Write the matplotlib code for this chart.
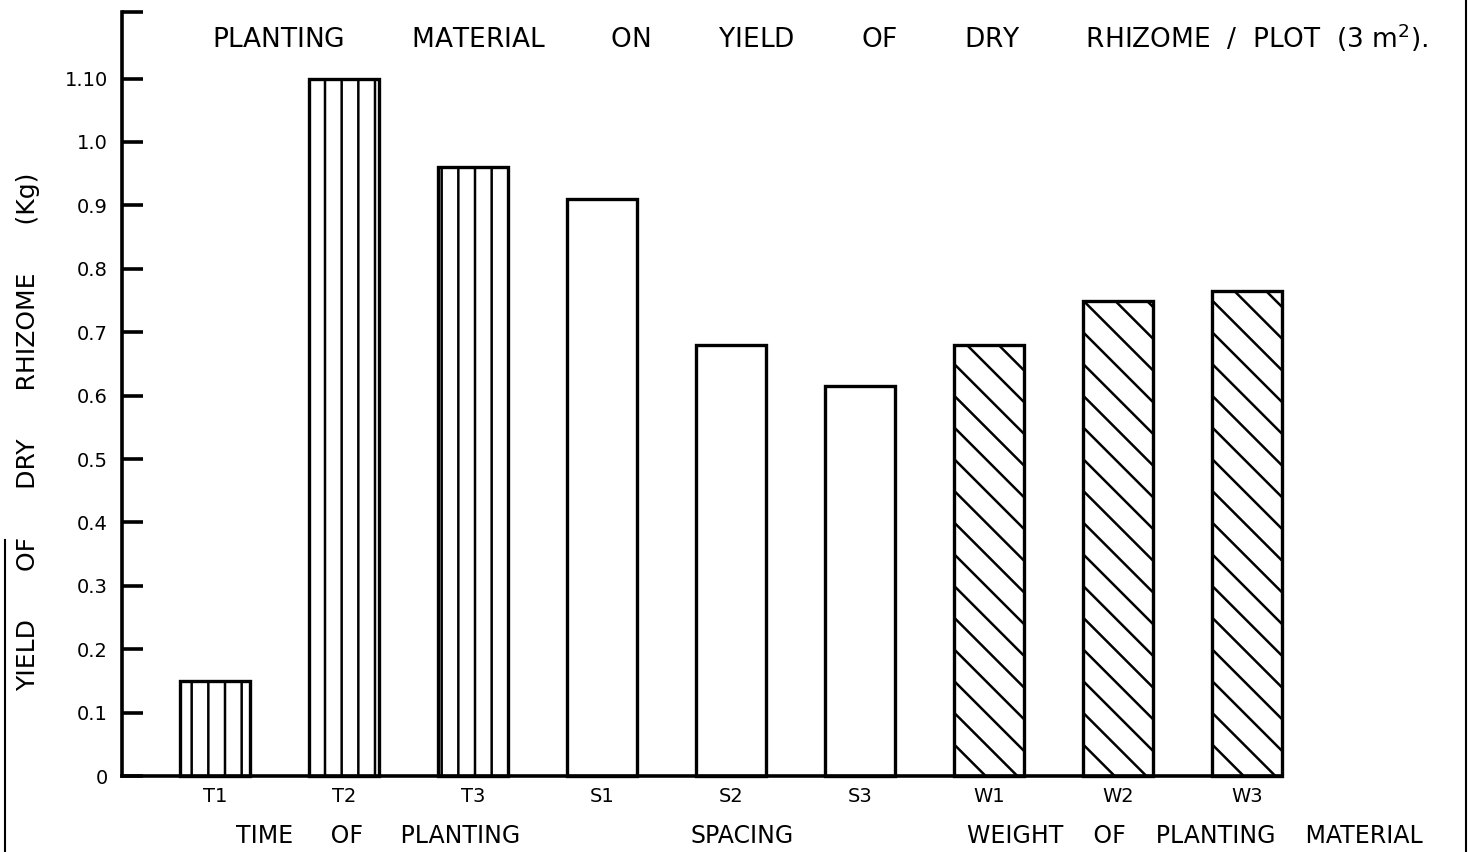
import numpy as np
import matplotlib
matplotlib.use("Agg")
import matplotlib.pyplot as plt
from matplotlib.lines import Line2D
from matplotlib.collections import LineCollection

# data
labels = ["T1", "T2", "T3", "S1", "S2", "S3", "W1", "W2", "W3"]
yields = [0.15, 1.10, 0.96, 0.91, 0.68, 0.615, 0.68, 0.75, 0.765]
groups = ["T", "T", "T", "S", "S", "S", "W", "W", "W"]
ytick_vals = [0, 0.1, 0.2, 0.3, 0.4, 0.5, 0.6, 0.7, 0.8, 0.9, 1.0, 1.10]
ytick_text = ["0", "0.1", "0.2", "0.3", "0.4", "0.5", "0.6", "0.7", "0.8", "0.9", "1.0", "1.10"]
group_titles = ["TIME     OF     PLANTING", "SPACING", "WEIGHT    OF    PLANTING    MATERIAL"]

plt.rcParams['font.family'] = ['DejaVu Sans']
plt.rcParams['hatch.linewidth'] = 1.8

fig = plt.figure(figsize=(14.7, 8.52), dpi=100)
ax = fig.add_axes([0.083, 0.089, 0.789, 0.897])

x = np.arange(len(labels))
width = 0.54
ymax = 1.205

bars = ax.bar(x, yields, width=width, facecolor="white", edgecolor="black",
	linewidth=2.4, clip_on=False)

# vertical lines for time of planting
for b, g in zip(bars, groups):
	if g == "T":
		b.set_hatch("|")

# hand-style diagonal hatch for weight (sparser than the built-in one)
px_x = 129.0   # pixels per x unit
px_y = 634.0   # pixels per y unit
for b, g in zip(bars, groups):
	if g != "W":
		continue
	x0 = b.get_x()
	x1 = x0 + b.get_width()
	h = b.get_height()
	drop = (x1 - x0) * px_x / px_y
	segs = []
	for y0 in np.arange(0.0, h + drop, 0.05):
		segs.append([(x0, y0), (x1, y0 - drop)])
	lc = LineCollection(segs, colors="black", linewidths=1.8)
	ax.add_collection(lc)
	lc.set_clip_path(b)

ax.set_xlim(-0.72, 8.27)
ax.set_ylim(0, ymax)

for s in ["top", "right"]:
	ax.spines[s].set_visible(False)
ax.spines["left"].set_linewidth(2.6)
ax.spines["bottom"].set_linewidth(2.6)

ax.set_yticks(ytick_vals + [ymax])
ax.set_yticklabels(ytick_text + [""], fontsize=14)
ax.tick_params(axis="y", direction="in", length=15, width=2.6, pad=10)

ax.set_xticks(x)
ax.set_xticklabels(labels, fontsize=14)
ax.tick_params(axis="x", length=0, pad=8)

ax.set_ylabel("YIELD      OF      DRY      RHIZOME      (Kg)", fontsize=18)
ax.yaxis.set_label_coords(-0.071, 0.45)

fig.text(820/1470, 1 - 38/852,
	"PLANTING        MATERIAL        ON        YIELD        OF        DRY        RHIZOME  /  PLOT  (3 m$^2$).",
	fontsize=19, ha="center", va="center")

gx = [378, 742, 1195]
for t, cx in zip(group_titles, gx):
	fig.text(cx/1470, 1 - 836/852, t, fontsize=17, ha="center", va="center")

# page borders of the scanned sheet
fig.add_artist(Line2D([1466/1470, 1466/1470], [0, 1], color="black", lw=1.5))
fig.add_artist(Line2D([5/1470, 5/1470], [0, 1 - 540/852], color="black", lw=1.5))

fig.savefig("out.png", dpi=100)
